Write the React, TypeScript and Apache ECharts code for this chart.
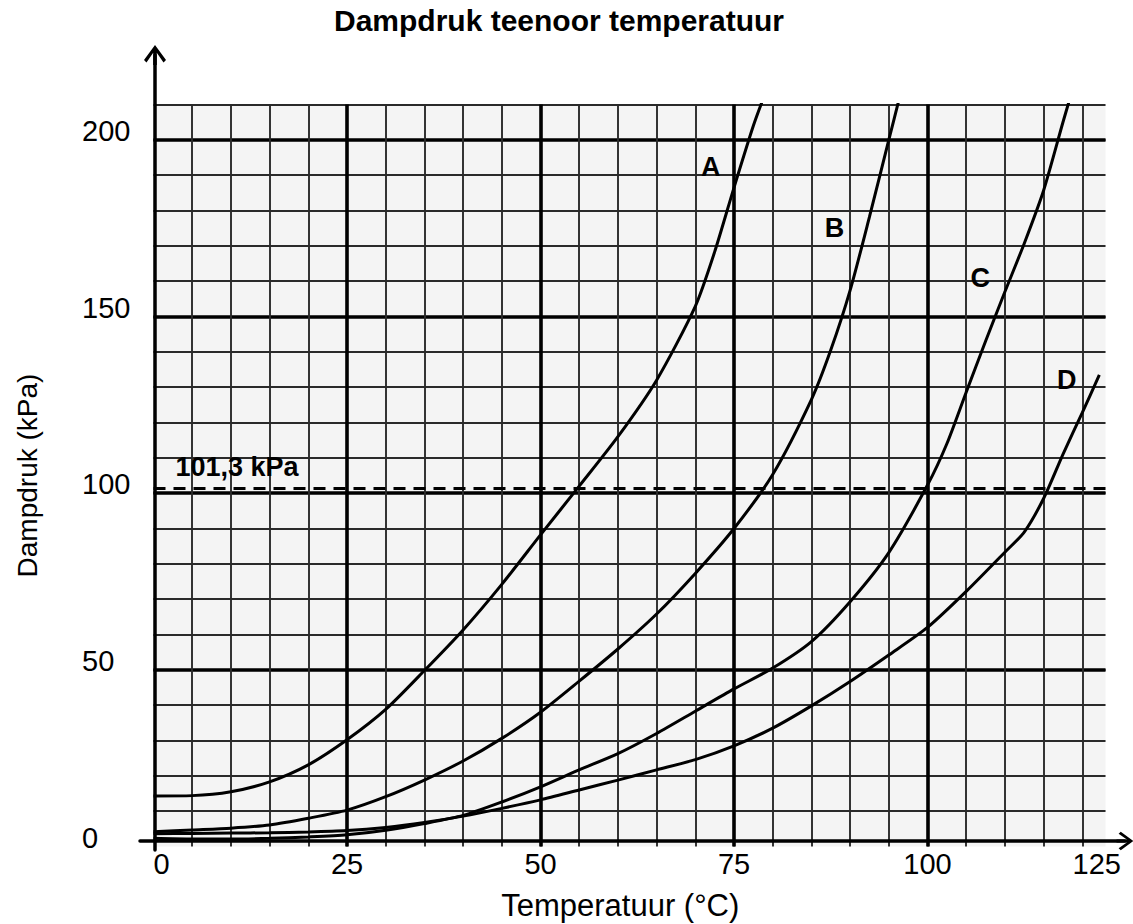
import React, { useEffect, useRef } from 'react';
import * as echarts from 'echarts';

// ---- data (temperature °C, vapour pressure kPa) ----
const curveA: [number, number][] = [
  [0, 14.3], [5, 14.4], [10, 15.5], [15, 18.3], [20, 23.1], [25, 30.2], [30, 38.8], [35, 49.8],
  [40, 61.3], [45, 74.2], [50, 88.2], [55, 102], [60, 116], [65, 132], [70, 152.9], [72.5, 168.3],
  [75, 186.5], [77.5, 204], [79, 213],
];
const curveB: [number, number][] = [
  [0, 4.2], [5, 4.7], [10, 5.2], [15, 6.1], [20, 8.0], [25, 10.3], [30, 14.1], [35, 18.8],
  [40, 24.2], [45, 30.6], [50, 38], [55, 46.8], [60, 55.9], [65, 65.8], [70, 77.3], [75, 90],
  [80, 105.3], [85, 126.5], [87.5, 140.5], [90, 157.4], [92.5, 178.2], [95, 200], [96.5, 213],
];
const curveC: [number, number][] = [
  [0, 2.3], [5, 2.1], [10, 2.1], [15, 2.3], [20, 2.7], [25, 3.3], [30, 4.6], [35, 6.5],
  [40, 8.8], [45, 12.6], [50, 16.9], [55, 21.7], [60, 26.3], [65, 32], [70, 38.3], [75, 44.6],
  [80, 50.5], [85, 58], [90, 69.3], [95, 83.2], [100, 102.3], [102.5, 114], [105, 128.6],
  [107.5, 143], [110, 157], [112.5, 170.7], [115, 185.7], [117.5, 205], [118.3, 211],
];
const curveD: [number, number][] = [
  [0, 3.6], [5, 3.7], [10, 3.8], [15, 3.9], [20, 4.1], [25, 4.5], [30, 5.4], [35, 6.8],
  [40, 8.6], [45, 10.8], [50, 13.2], [55, 16], [60, 18.8], [65, 21.7], [70, 24.6], [75, 28.5],
  [80, 33.5], [85, 39.8], [90, 46.7], [95, 54.2], [100, 62], [105, 72.2], [110, 83.3],
  [112.5, 89], [115, 98.5], [117.5, 111], [120, 122.8], [122.2, 133.5],
];
const curveNames = ['A', 'B', 'C', 'D'];
const curveLabelPositions: [number, number][] = [
  [72.0, 192.3], [88.0, 175], [106.8, 160.8], [118, 132],
];
const referencePressure = 101.3;
const referenceLabel = '101,3 kPa';
const titleText = 'Dampdruk teenoor temperatuur';
const xName = 'Temperatuur (°C)';
const yName = 'Dampdruk (kPa)';
const xMin = 0, xMax = 123, xLabelMax = 125, xMinor = 5, xMajor = 25;
const yMin = 0, yMax = 210, yMinor = 10, yMajor = 50;

// ---- layout ----
const FONT = '"Liberation Sans", Arial, Helvetica, sans-serif';
const X0 = 153.5;
const PX_PER_C = 7.74;
const Y0 = 846.5;
const PX_PER_KPA = 3.533;
const ARROW =
  'path://M11 0 L22 15 L19.5 17.5 L12.8 7.8 L12.8 20 L9.2 20 L9.2 7.8 L2.5 17.5 L0 15 Z';

export default function App() {
  const ref = useRef<HTMLDivElement>(null);

  useEffect(() => {
    document.body.style.margin = '0';
    if (!ref.current) return;
    const chart = echarts.init(ref.current, undefined, { renderer: 'svg' });

    const plotTop = Y0 - yMax * PX_PER_KPA;
    const plotH = yMax * PX_PER_KPA;
    const plotW = xMax * PX_PER_C;

    const minor = { show: true, lineStyle: { color: '#2a2a2a', width: 1.9 } };
    const major = { show: true, lineStyle: { color: '#000', width: 3.6 } };
    const hidden = { show: false };
    const gridBase = { outerBoundsMode: 'none', containLabel: false };

    const lines = [curveA, curveB, curveC, curveD].map((d, i) => ({
      type: 'line',
      name: curveNames[i],
      data: d,
      xAxisIndex: 0,
      yAxisIndex: 0,
      showSymbol: false,
      symbol: 'none',
      smooth: 0.25,
      silent: true,
      z: 5,
      lineStyle: { color: '#000', width: 3 },
      ...(i === 0
        ? {
            markLine: {
              silent: true,
              symbol: 'none',
              data: [{ yAxis: referencePressure }],
              lineStyle: { color: '#000', width: 3, type: [12, 8] },
              label: {
                show: true,
                formatter: referenceLabel,
                position: 'insideStartTop',
                distance: [22, 8],
                color: '#000',
                fontFamily: FONT,
                fontWeight: 'bold',
                fontSize: 27,
              },
            },
          }
        : {}),
    }));

    const option: any = {
      animation: false,
      backgroundColor: '#fff',
      title: {
        text: titleText,
        left: 559,
        top: 5,
        padding: 0,
        textAlign: 'center',
        textStyle: { fontFamily: FONT, fontWeight: 'bold', fontSize: 30, color: '#000' },
      },
      grid: [
        { ...gridBase, left: X0, top: plotTop, width: plotW, height: plotH, show: true, backgroundColor: '#f4f4f4', borderWidth: 0 },
        { ...gridBase, left: 140, top: 45, width: 985, height: 796 },
        { ...gridBase, left: 155, top: 55, width: 10, height: 795 },
        { ...gridBase, left: X0, top: plotTop, width: xLabelMax * PX_PER_C, height: plotH },
      ],
      xAxis: [
        {
          gridIndex: 0, type: 'value', position: 'bottom', min: xMin, max: xMax, interval: xMinor,
          axisLine: hidden, axisTick: hidden, axisLabel: hidden,
          splitLine: { ...minor, showMinLine: false, showMaxLine: false },
        },
        {
          gridIndex: 0, type: 'value', position: 'bottom', min: xMin, max: xMax, interval: xMajor,
          axisLine: hidden, axisTick: hidden, axisLabel: hidden,
          splitLine: { ...major, showMinLine: false, showMaxLine: false },
        },
        {
          gridIndex: 1, type: 'value', position: 'bottom', min: 0, max: 1,
          axisLine: {
            show: true, onZero: false, symbol: ['none', ARROW], symbolSize: [22, 17],
            lineStyle: { color: '#000', width: 3.5 },
          },
          axisTick: hidden, axisLabel: hidden, splitLine: hidden,
        },
        {
          gridIndex: 3, type: 'value', position: 'bottom', min: xMin, max: xLabelMax, interval: xMajor,
          axisLine: hidden, axisTick: hidden, splitLine: hidden,
          axisLabel: {
            show: true, margin: 3, fontFamily: FONT, fontSize: 29, color: '#000',
            alignMinLabel: 'left', alignMaxLabel: 'right',
          },
          name: xName, nameLocation: 'middle', nameGap: 43,
          nameTextStyle: { fontFamily: FONT, fontSize: 31, color: '#000', padding: [0, 34, 0, 0] },
        },
        { gridIndex: 2, type: 'value', show: false },
      ],
      yAxis: [
        {
          gridIndex: 0, type: 'value', position: 'left', min: yMin, max: yMax, interval: yMinor,
          axisLine: hidden, axisTick: hidden, axisLabel: hidden,
          splitLine: { ...minor, showMinLine: false, showMaxLine: true },
        },
        {
          gridIndex: 0, type: 'value', position: 'left', min: yMin, max: yMax, interval: yMajor,
          axisLine: hidden, axisTick: hidden, splitLine: { ...major, showMinLine: false, showMaxLine: false },
          axisLabel: {
            show: true, showMaxLabel: false, align: 'left', margin: X0 - 82,
            verticalAlign: 'bottom', lineHeight: 18,
            fontFamily: FONT, fontSize: 29, color: '#000',
            formatter: (v: number) => (v % yMajor === 0 ? String(v) : ''),
          },
          name: yName, nameLocation: 'middle', nameRotate: 90, nameGap: 112,
          nameTextStyle: { fontFamily: FONT, fontSize: 28, color: '#000' },
        },
        { gridIndex: 1, type: 'value', show: false },
        {
          gridIndex: 2, type: 'value', position: 'left', min: 0, max: 1,
          axisLine: {
            show: true, onZero: false, symbol: ['none', ARROW], symbolSize: [22, 20],
            lineStyle: { color: '#000', width: 3.5 },
          },
          axisTick: hidden, axisLabel: hidden, splitLine: hidden,
        },
        { gridIndex: 3, type: 'value', show: false, min: yMin, max: yMax },
      ],
      series: [
        ...lines,
        {
          type: 'scatter',
          xAxisIndex: 0,
          yAxisIndex: 0,
          silent: true,
          symbolSize: 0,
          itemStyle: { color: '#000', opacity: 1 },
          z: 6,
          data: curveNames.map((n, i) => ({ name: n, value: curveLabelPositions[i] })),
          label: {
            show: true, position: 'inside', formatter: '{b}',
            fontFamily: FONT, fontWeight: 'bold', fontSize: 27, color: '#000',
            textBorderWidth: 0, opacity: 1,
          },
        },
      ],
    };

    chart.setOption(option);
    return () => chart.dispose();
  }, []);

  return <div ref={ref} style={{ width: 1133, height: 924 }} />;
}
